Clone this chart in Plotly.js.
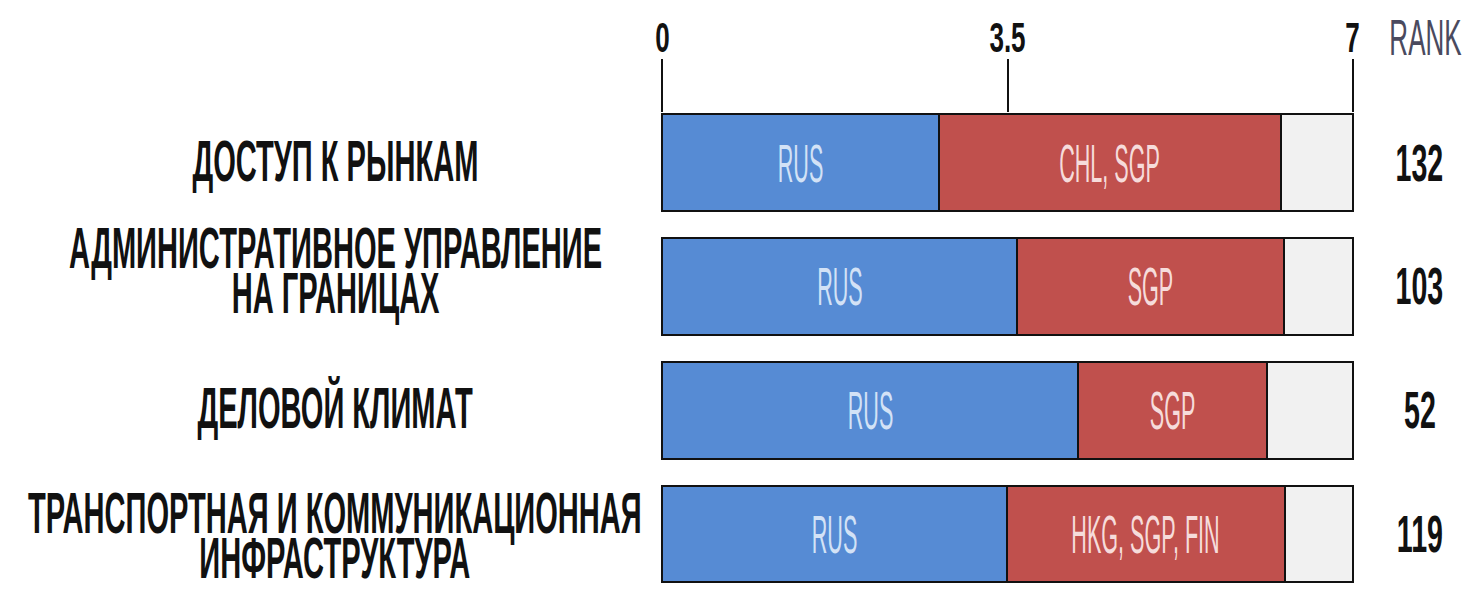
<!DOCTYPE html>
<html>
<head>
<meta charset="utf-8">
<script src="https://cdn.plot.ly/plotly-3.0.1.min.js"></script>
<style>
  html, body { margin: 0; padding: 0; background: #ffffff; }
  #chart { width: 1478px; height: 596px; }
</style>
</head>
<body>
<div id="chart"></div>
<script>
// ---- data ----
var categories = [
  "ДОСТУП К РЫНКАМ",
  "АДМИНИСТРАТИВНОЕ УПРАВЛЕНИЕ<br>НА ГРАНИЦАХ",
  "ДЕЛОВОЙ КЛИМАТ",
  "ТРАНСПОРТНАЯ И КОММУНИКАЦИОННАЯ<br>ИНФРАСТРУКТУРА"
];
var catKeys = ["c1", "c2", "c3", "c4"];
var rusValues = [2.80, 3.60, 4.22, 3.49];
var bestValues = [6.27, 6.30, 6.13, 6.31];
var bestLabels = ["CHL, SGP", "SGP", "SGP", "HKG, SGP, FIN"];
var rusLabel = "RUS";
var ranks = ["132", "103", "52", "119"];
var rankHeader = "RANK";
var scaleMax = 7;
var tickValues = [0, 3.5, 7];
var tickLabels = ["0", "3.5", "7"];

// ---- derived ----
var gapValues = bestValues.map(function (b, i) { return b - rusValues[i]; });
var restValues = bestValues.map(function (b) { return scaleMax - b; });

var FONT = "'Liberation Sans', Arial, sans-serif";
var outline = { color: "#111111", width: 2 };

// horizontal condensation factors (emulates the condensed display face)
var F_LABEL = 0.51, F_BAR = 0.4, F_TICK = 0.62, F_RANK = 0.55, F_HEAD = 0.52;
var LABEL_SIZE = 57;
var LABEL_LINE_GAP = 45; // px between the baselines of wrapped label lines

var traces = [
  {
    type: "bar", orientation: "h", y: catKeys, x: rusValues,
    marker: { color: "#568bd4", line: outline },
    text: rusValues.map(function () { return rusLabel; }),
    textposition: "inside", insidetextanchor: "middle", constraintext: "none",
    textfont: { family: FONT, size: 54, color: "#d3e2f6" },
    hoverinfo: "x"
  },
  {
    type: "bar", orientation: "h", y: catKeys, x: gapValues,
    marker: { color: "#c0504d", line: outline },
    text: bestLabels,
    textposition: "inside", insidetextanchor: "middle", constraintext: "none",
    textfont: { family: FONT, size: 54, color: "#f6dcdb" },
    hoverinfo: "x"
  },
  {
    type: "bar", orientation: "h", y: catKeys, x: restValues,
    marker: { color: "#f1f1f1", line: outline },
    hoverinfo: "x"
  }
];

var annotations = [];
var annFactors = [];
var LABEL_X = -0.4704;
var labelShift = [2, 1, 2, -16];
categories.forEach(function (c, i) {
  annotations.push({
    xref: "paper", yref: "y", x: LABEL_X, y: catKeys[i],
    text: c, showarrow: false, xanchor: "center", yanchor: "middle", align: "center",
    yshift: labelShift[i],
    font: { family: FONT, size: LABEL_SIZE, color: "#111111", weight: "bold" }
  });
  annFactors.push(F_LABEL);
  annotations.push({
    xref: "paper", yref: "y", x: 1.0952, y: catKeys[i],
    text: ranks[i], showarrow: false, xanchor: "center", yanchor: "middle",
    yshift: 0,
    font: { family: FONT, size: 52, color: "#111111", weight: "bold" }
  });
  annFactors.push(F_RANK);
});
annotations.push({
  xref: "paper", yref: "paper", x: 1.1025, y: 1, yshift: 75,
  text: rankHeader, showarrow: false, xanchor: "center", yanchor: "middle",
  font: { family: FONT, size: 50, color: "#4a4a5e" }
});
annFactors.push(F_HEAD);

var layout = {
  width: 1478, height: 596,
  margin: { l: 661, r: 124, t: 113, b: 0, pad: 0 },
  paper_bgcolor: "#ffffff", plot_bgcolor: "#ffffff",
  barmode: "stack", bargap: 0.22,
  showlegend: false,
  font: { family: FONT },
  xaxis: {
    side: "top", range: [-0.015, scaleMax + 0.015],
    tickvals: tickValues, ticktext: tickLabels,
    ticks: "outside", ticklen: 53, tickwidth: 2, tickcolor: "#111111",
    ticklabelstandoff: -10,
    showgrid: false, zeroline: false, showline: false,
    tickfont: { family: FONT, size: 42, color: "#111111", weight: "bold" },
    fixedrange: true
  },
  yaxis: {
    type: "category", categoryorder: "array", categoryarray: catKeys,
    range: [3.5, -0.4],
    showticklabels: false, ticks: "", showgrid: false, zeroline: false, showline: false,
    fixedrange: true
  },
  annotations: annotations
};

// squeeze a text element horizontally about its own centre
function condense(el, f) {
  if (!el || !el.getBBox) return;
  var bb = el.getBBox();
  if (!(bb.width > 0)) return;
  var cx = bb.x + bb.width / 2;
  var prev = el.getAttribute("transform") || "";
  el.setAttribute("transform",
    (prev + " translate(" + cx.toFixed(2) + ",0) scale(" + f + ",1) translate(" + (-cx).toFixed(2) + ",0)").trim());
}

// tighten the leading of wrapped lines (the display face is set solid)
function tighten(el) {
  if (!el) return;
  var lines = el.querySelectorAll("tspan.line");
  for (var k = 1; k < lines.length; k++) {
    var dy = lines[k].getAttribute("dy") || "";
    var v = parseFloat(dy);
    if (!isFinite(v)) continue;
    var em = dy.indexOf("em") >= 0 ? v : v / LABEL_SIZE;
    lines[k].setAttribute("dy", (em / 1.3 * LABEL_LINE_GAP).toFixed(2));
  }
}

var gd = document.getElementById("chart");
Plotly.newPlot(gd, traces, layout, { displayModeBar: false, staticPlot: true }).then(function () {
  gd.querySelectorAll("g.annotation").forEach(function (g) {
    var idx = +g.getAttribute("data-index");
    var f = annFactors[idx];
    var t = g.querySelector("text.annotation-text");
    if (f === F_LABEL) tighten(t);
    condense(t, f);
    // shrink the (invisible) annotation box to the condensed text
    g.querySelectorAll("rect").forEach(function (r) {
      var w = +r.getAttribute("width");
      if (!(w > 0)) return;
      var x = +(r.getAttribute("x") || 0);
      var nw = w * f;
      r.setAttribute("x", (x + (w - nw) / 2).toFixed(2));
      r.setAttribute("width", nw.toFixed(2));
    });
  });
  gd.querySelectorAll("text.bartext").forEach(function (t) { condense(t, F_BAR); });
  gd.querySelectorAll("g.xtick text").forEach(function (t) { condense(t, F_TICK); });
});
</script>
</body>
</html>
